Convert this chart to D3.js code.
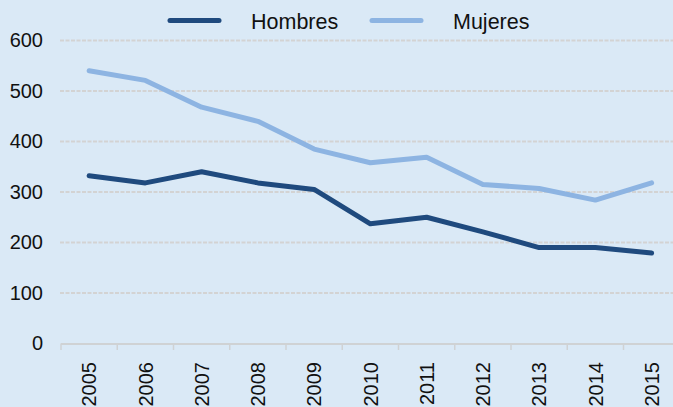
<!DOCTYPE html>
<html>
<head>
<meta charset="utf-8">
<script src="https://cdn.jsdelivr.net/npm/d3@7"></script>
<style>
    body { margin: 0; background: #dae9f6; }
    svg { display: block; font-family: "Liberation Sans", Arial, sans-serif; }
</style>
</head>
<body>
<svg id="chart" width="673" height="407"></svg>
<script>

// data
const years = ["2005", "2006", "2007", "2008", "2009", "2010", "2011", "2012", "2013", "2014", "2015"];
const hombres = [332, 318, 340, 318, 305, 237, 250, 221, 190, 190, 179];
const mujeres = [540, 521, 468, 440, 385, 358, 369, 315, 307, 284, 318];
const yTicks = [0, 100, 200, 300, 400, 500, 600];

const seriesNames = ["Hombres", "Mujeres"];
const seriesColors = ["#1f4a7e", "#8db4e2"];

const width = 673, height = 407;
const margin = { top: 40.5, left: 61, bottom: 343.5 };
const step = 56.25;

const svg = d3.select("#chart");

svg.append("rect")
    .attr("width", width)
    .attr("height", height)
    .attr("fill", "#dae9f6");

const x = d3.scaleBand()
    .domain(years)
    .range([margin.left, margin.left + step * years.length])
    .padding(0);

const y = d3.scaleLinear()
    .domain([0, 600])
    .range([margin.bottom, margin.top]);

// gridlines
svg.append("g")
    .selectAll("line")
    .data(yTicks.filter(d => d > 0))
    .enter().append("line")
    .attr("x1", 60)
    .attr("x2", width)
    .attr("y1", d => y(d))
    .attr("y2", d => y(d))
    .attr("stroke", "#d3d3d3")
    .attr("stroke-width", 2)
    .attr("stroke-dasharray", "4,1.5");

// y axis labels
const yAxis = d3.axisLeft(y)
    .tickValues(yTicks)
    .tickSize(0)
    .tickPadding(17);

svg.append("g")
    .attr("transform", "translate(60,0)")
    .call(yAxis)
    .call(g => g.select(".domain").remove())
    .selectAll("text")
    .attr("font-size", 20)
    .attr("font-family", "Liberation Sans, Arial, sans-serif")
    .attr("fill", "#111");

// x axis line + ticks at band edges
const xg = svg.append("g");
xg.append("line")
    .attr("x1", margin.left)
    .attr("x2", width)
    .attr("y1", margin.bottom + 0.5)
    .attr("y2", margin.bottom + 0.5)
    .attr("stroke", "#cfd2d4")
    .attr("stroke-width", 2);

xg.selectAll("line.tick")
    .data(years)
    .enter().append("line")
    .attr("class", "tick")
    .attr("x1", d => x(d))
    .attr("x2", d => x(d))
    .attr("y1", margin.bottom)
    .attr("y2", margin.bottom + 6.5)
    .attr("stroke", "#cfd2d4")
    .attr("stroke-width", 1.5);

xg.selectAll("text")
    .data(years)
    .enter().append("text")
    .attr("transform", d => "translate(" + (x(d) + x.bandwidth() / 2) + ",362) rotate(-90)")
    .attr("text-anchor", "end")
    .attr("dy", "0.36em")
    .attr("font-size", 20)
    .attr("fill", "#111")
    .text(d => d);

// lines
const line = d3.line()
    .x((d, i) => x(years[i]) + x.bandwidth() / 2)
    .y(d => y(d));

[hombres, mujeres].forEach((s, i) => {
    svg.append("path")
        .datum(s)
        .attr("d", line)
        .attr("fill", "none")
        .attr("stroke", seriesColors[i])
        .attr("stroke-width", 5)
        .attr("stroke-linejoin", "round")
        .attr("stroke-linecap", "round");
});

// legend
const legendX = [170, 372];
const legend = svg.append("g");
seriesNames.forEach((name, i) => {
    legend.append("line")
        .attr("x1", legendX[i])
        .attr("x2", legendX[i] + 49)
        .attr("y1", 20.5)
        .attr("y2", 20.5)
        .attr("stroke", seriesColors[i])
        .attr("stroke-width", 5)
        .attr("stroke-linecap", "round");
    legend.append("text")
        .attr("x", legendX[i] + 81)
        .attr("y", 28.5)
        .attr("font-size", 21.5)
        .attr("fill", "#111")
        .text(name);
});

</script>
</body>
</html>
